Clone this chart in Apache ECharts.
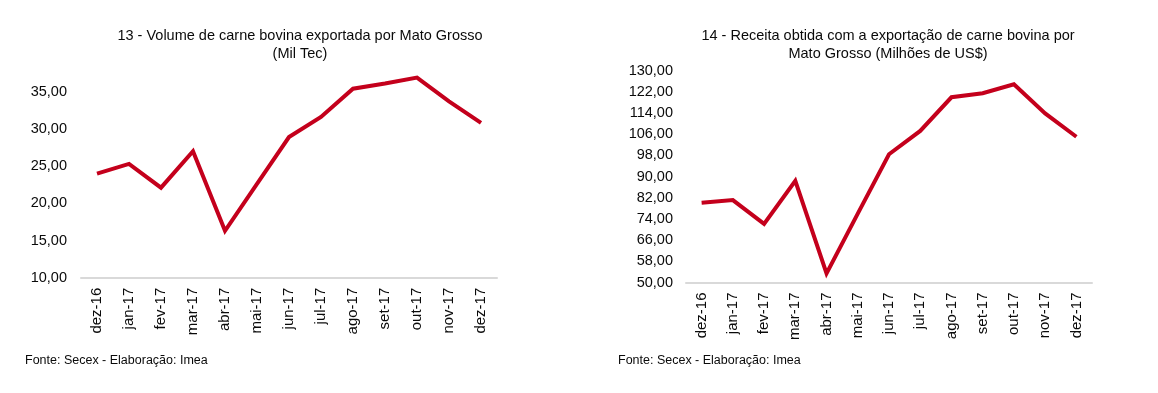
<!DOCTYPE html>
<html>
<head>
<meta charset="utf-8">
<script src="https://cdn.jsdelivr.net/npm/echarts@6/dist/echarts.min.js"></script>
<style>
html,body{margin:0;padding:0;background:#fff;}
#c{width:1158px;height:393px;}
</style>
</head>
<body>
<div id="c"></div>
<script>
var categories = ['dez-16','jan-17','fev-17','mar-17','abr-17','mai-17','jun-17','jul-17','ago-17','set-17','out-17','nov-17','dez-17'];
var volume = [24.0, 25.3, 22.1, 27.0, 16.3, 22.6, 28.9, 31.6, 35.4, 36.1, 36.9, 33.7, 30.8];
var receita = [80.1, 81.1, 72.1, 88.4, 53.4, 76.0, 98.4, 107.2, 119.9, 121.4, 124.8, 113.8, 105.0];
var title1 = '13 - Volume de carne bovina exportada por Mato Grosso\n(Mil Tec)';
var title2 = '14 - Receita obtida com a exportação de carne bovina por\nMato Grosso (Milhões de US$)';
var source = 'Fonte: Secex - Elaboração: Imea';

var FONT = 'Liberation Sans, Arial, Helvetica, sans-serif';
var RED = '#C4001C';
var TXT = '#0a0a0a';
function fmt(v){ return v.toFixed(2).replace('.', ','); }

var chart = echarts.init(document.getElementById('c'));
function xAxis(i){
  return {
    type:'category', gridIndex:i, data:categories, boundaryGap:true,
    axisTick:{show:false},
    axisLine:{lineStyle:{color:'#D9D9D9', width:2}},
    axisLabel:{rotate:90, margin:10, color:TXT, fontSize:15, fontFamily:FONT}
  };
}
chart.setOption({
  animation:false,
  title:[
    {text:title1, left:295, top:22, textAlign:'center',
     textStyle:{fontSize:14.5, fontWeight:'normal', color:TXT, fontFamily:FONT, lineHeight:18}},
    {text:title2, left:883, top:22, textAlign:'center',
     textStyle:{fontSize:14.5, fontWeight:'normal', color:TXT, fontFamily:FONT, lineHeight:18}}
  ],
  grid:[
    {left:81, top:54.5, width:416, height:223.2, containLabel:false},
    {left:686, top:70.5, width:406, height:212, containLabel:false}
  ],
  xAxis:[xAxis(0), xAxis(1)],
  yAxis:[
    {type:'value', gridIndex:0, min:10, max:40, interval:5,
     splitLine:{show:false}, axisLine:{show:false}, axisTick:{show:false},
     axisLabel:{margin:14, color:TXT, fontSize:14.5, fontFamily:FONT,
       formatter:function(v){ return v >= 40 ? '' : fmt(v); }}},
    {type:'value', gridIndex:1, min:50, max:130, interval:8,
     splitLine:{show:false}, axisLine:{show:false}, axisTick:{show:false},
     axisLabel:{margin:13, color:TXT, fontSize:14.5, fontFamily:FONT, formatter:fmt}}
  ],
  series:[
    {type:'line', xAxisIndex:0, yAxisIndex:0, data:volume, symbol:'none',
     lineStyle:{color:RED, width:4, join:'miter'}},
    {type:'line', xAxisIndex:1, yAxisIndex:1, data:receita, symbol:'none',
     lineStyle:{color:RED, width:4, join:'miter'}}
  ],
  graphic:[
    {type:'text', left:25, top:354, style:{text:source, fontSize:12.5, fill:TXT, fontFamily:FONT}},
    {type:'text', left:618, top:354, style:{text:source, fontSize:12.5, fill:TXT, fontFamily:FONT}}
  ]
});
</script>
</body>
</html>
